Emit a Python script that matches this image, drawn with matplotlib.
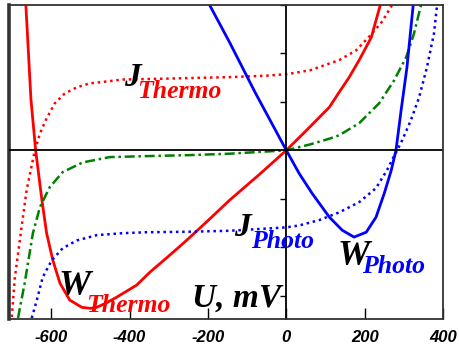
import matplotlib
matplotlib.use('Agg')
import matplotlib.pyplot as plt

# W_Thermo (red solid)
wt_x = [-665, -652, -640, -624, -612, -596, -578, -553, -522, -500, -484, -460, -433, -382,
        -349, -300, -255, -200, -145, -69, 0, 50, 110, 135, 160, 186, 217, 240]
wt_y = [3.0, 1.05, 0.0, -1.03, -1.71, -2.27, -2.74, -3.09, -3.24, -3.26, -3.24, -3.15, -3.03,
        -2.78, -2.52, -2.18, -1.86, -1.45, -1.03, -0.5, 0.0, 0.4, 0.89, 1.2, 1.5, 1.86, 2.33, 3.0]

# J_Thermo (red dotted)
jt_x = [-701, -693, -678, -663, -642, -629, -612, -591, -566, -535, -502, -459, -418, -300,
        -200, -145, -50, 0, 60, 110, 135, 178, 219, 245, 270]
jt_y = [-3.44, -2.62, -1.71, -0.82, 0.0, 0.35, 0.66, 0.97, 1.17, 1.30, 1.38, 1.42, 1.46, 1.48,
        1.50, 1.51, 1.54, 1.57, 1.65, 1.79, 1.86, 2.06, 2.41, 2.66, 3.0]

# J total (green dash-dot)
jj_x = [-685, -668, -647, -629, -604, -571, -520, -451, -357, -250, -145, 0, 60, 110, 135,
        186, 237, 275, 306, 326, 344]
jj_y = [-3.46, -2.74, -1.71, -1.17, -0.76, -0.45, -0.25, -0.14, -0.12, -0.10, -0.07, 0.0,
        0.12, 0.24, 0.31, 0.56, 0.97, 1.44, 1.92, 2.41, 3.0]

# W_Photo (blue solid)
wp_x = [-196, -145, -80, 0, 33, 66, 110, 143, 173, 204, 229, 250, 268, 280, 293, 308, 324]
wp_y = [3.0, 2.23, 1.2, 0.0, -0.48, -0.89, -1.38, -1.65, -1.79, -1.69, -1.38, -0.89, -0.41,
        0.0, 0.82, 1.71, 3.0]

# J_Photo (blue dotted)
jp_x = [-650, -637, -622, -599, -571, -535, -484, -418, -357, -250, -145, 0, 33, 84, 135,
        186, 229, 257, 275, 283, 296, 318, 339, 359, 377, 385]
jp_y = [-3.46, -3.09, -2.62, -2.27, -2.02, -1.86, -1.75, -1.71, -1.69, -1.68, -1.66, -1.59,
        -1.55, -1.44, -1.28, -1.07, -0.78, -0.41, -0.12, 0.0, 0.21, 0.62, 1.09, 1.71, 2.41, 3.0]

xticks = [-600, -400, -200, 0, 200, 400]
yticks = [-3, -2, -1, 1, 2, 3]

fig = plt.figure(figsize=(4.6, 3.5), dpi=100)
ax = fig.add_axes([0.0196, 0.0886, 0.9434, 0.8974])

ax.plot(wt_x, wt_y, color='#ff0000', linewidth=2.0)
ax.plot(jt_x, jt_y, color='#ff0000', linewidth=1.8, linestyle=(0, (1, 1.5)))
ax.plot(jj_x, jj_y, color='#008000', linewidth=1.8, linestyle=(0, (4, 1.5, 1, 1.5)))
ax.plot(wp_x, wp_y, color='#0000ff', linewidth=2.0)
ax.plot(jp_x, jp_y, color='#0000ff', linewidth=1.8, linestyle=(0, (1, 1.5)))

ax.set_xlim(-708, 397)
ax.set_ylim(-3.48, 3.0)

# frame + centre lines
for s in ['top', 'right', 'bottom']:
    ax.spines[s].set_linewidth(1.3)
    ax.spines[s].set_color('#333333')
ax.spines['left'].set_position(('data', 0))
ax.spines['left'].set_linewidth(1.3)
ax.axvline(-708, color='#333333', linewidth=2.6, clip_on=False)
ax.axhline(0, color='black', linewidth=1.3)

ax.set_xticks(xticks)
ax.set_xticklabels([str(t) for t in xticks], fontfamily='Liberation Sans',
                   fontweight='bold', fontstyle='italic', fontsize=12)
ax.tick_params(axis='x', direction='in', length=8, width=1, pad=8)
ax.set_yticks(yticks)
ax.set_yticklabels([])
ax.tick_params(axis='y', direction='out', length=4, width=1)

big = dict(fontfamily='Liberation Serif', fontweight='bold', fontstyle='italic')
ax.text(-392, 1.5, 'J', fontsize=24, color='black', ha='center', va='center', **big)
ax.text(-380, 1.21, 'Thermo', fontsize=18.5, color='#ff0000', ha='left', va='center', **big)
ax.text(-112, -1.6, 'J', fontsize=24, color='black', ha='center', va='center', **big)
ax.text(-90, -1.88, 'Photo', fontsize=18.5, color='#0000ff', ha='left', va='center', **big)
ax.text(173, -2.2, 'W', fontsize=26, color='black', ha='center', va='center', **big)
ax.text(194, -2.4, 'Photo', fontsize=18.5, color='#0000ff', ha='left', va='center', **big)
ax.text(-540, -2.8, 'W', fontsize=26, color='black', ha='center', va='center', **big)
ax.text(-510, -3.2, 'Thermo', fontsize=18.5, color='#ff0000', ha='left', va='center', **big)
ax.text(-12, -3.05, 'U, mV', fontsize=24, color='black', ha='right', va='center', **big)

plt.savefig('out.png', dpi=100)
